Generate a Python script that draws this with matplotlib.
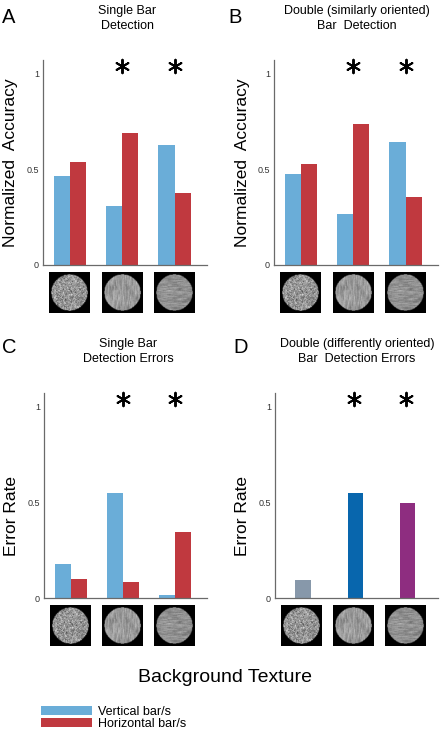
import numpy as np
import matplotlib
matplotlib.use("Agg")
import matplotlib.pyplot as plt
from matplotlib.patches import Patch

plt.rcParams['font.family'] = ['Liberation Sans', 'DejaVu Sans']

# ---------------- data ----------------
groups = [1, 2, 3]
textures = ["noise", "vertical", "horizontal"]

a_vertical = [0.464, 0.31, 0.625]
a_horizontal = [0.536, 0.69, 0.377]

b_vertical = [0.477, 0.264, 0.644]
b_horizontal = [0.526, 0.738, 0.356]

c_vertical = [0.18, 0.547, 0.018]
c_horizontal = [0.10, 0.084, 0.346]

d_values = [0.096, 0.55, 0.494]

significant = [False, True, True]
yticks = [0, 0.5, 1]
ytick_labels = ["0", "0.5", "1"]

titles = ["Single Bar\nDetection",
          "Double (similarly oriented)\nBar  Detection",
          "Single Bar\nDetection Errors",
          "Double (differently oriented)\nBar  Detection Errors"]
ylabels = ["Normalized  Accuracy", "Normalized  Accuracy", "Error Rate", "Error Rate"]
letters = ["A", "B", "C", "D"]
legend_labels = ["Vertical bar/s", "Horizontal bar/s"]
xlabel_text = "Background Texture"

# ---------------- style ----------------
BLUE = "#6aadd8"
RED = "#c0393f"
D_COLORS = ["#8798aa", "#0866ad", "#8e2d80"]
SPINE = "#6a6a6a"

W, H = 440, 730
fig = plt.figure(figsize=(W / 100, H / 100), dpi=100)


def px(left, top, w, h):
    return [left / W, 1 - (top + h) / H, w / W, h / H]


def fx(x):
    return x / W


def fy(y):
    return 1 - y / H


def hash2(i, j):
    v = np.sin(i * 12.9898 + j * 78.233) * 43758.5453
    return v - np.floor(v)


def streaks(a, b, seg=9.0):
    # smooth along b, varying across a
    t = b / seg
    t0 = np.floor(t)
    f = t - t0
    f = f * f * (3 - 2 * f)
    return hash2(a, t0) * (1 - f) + hash2(a, t0 + 1) * f


def texture(kind, n=72):
    jj, ii = np.meshgrid(np.arange(n) * 1.0, np.arange(n) * 1.0)
    fine = hash2(ii + 7.0, jj + 13.0)
    if kind == "noise":
        img = 0.22 + 0.72 * hash2(ii, jj)
    elif kind == "vertical":
        s = streaks(jj, ii)
        img = 0.60 + 0.28 * (s - 0.5) + 0.12 * (fine - 0.5)
    else:
        s = streaks(ii + 31.0, jj)
        img = 0.56 + 0.24 * (s - 0.5) + 0.12 * (fine - 0.5)
    c = (n - 1) / 2
    r = np.hypot(ii - c, jj - c)
    img = np.where(r <= n * 0.44, img, 0.0)
    return np.clip(img, 0, 1)


tex_imgs = [texture(k) for k in textures]

ax_rects = [px(43, 60, 164, 205), px(274, 60, 164, 205),
            px(44, 393, 163, 205), px(275, 393, 163, 205)]
XLIM = (0.486, 3.62)
YLIM = (0, 1.07)
bw = 0.31

title_pos = [(127, 18.5), (357, 18.5), (128, 351.5), (357, 351.5)]
letter_pos = [(2, 8), (228, 8), (2, 338), (233, 338)]
ylabel_pos = [(11, 163), (242, 163), (11, 516), (242, 516)]

panel_data = [(a_vertical, a_horizontal), (b_vertical, b_horizontal),
              (c_vertical, c_horizontal), None]

for k in range(4):
    ax = fig.add_axes(ax_rects[k])
    x = np.array(groups, dtype=float)
    if panel_data[k] is not None:
        v, hz = panel_data[k]
        ax.bar(x - bw / 2, v, width=bw, color=BLUE, edgecolor='none')
        ax.bar(x + bw / 2, hz, width=bw, color=RED, edgecolor='none')
    else:
        ax.bar(x + 0.03, d_values, width=0.3, color=D_COLORS, edgecolor='none')

    sx = [g for g, s in zip(groups, significant) if s]
    ax.scatter(sx, [1.04] * len(sx), marker=(6, 2, 0), s=95, color='black',
               linewidths=1.4, clip_on=False, zorder=5)

    for g, img in zip(groups, tex_imgs):
        ax.imshow(img, cmap='gray', vmin=0, vmax=1, aspect='auto',
                  extent=[g - 0.39, g + 0.39, -0.25, -0.036],
                  clip_on=False, interpolation='bilinear', zorder=3)

    ax.set_xlim(*XLIM)
    ax.set_ylim(*YLIM)
    ax.set_yticks(yticks)
    ax.set_yticklabels(ytick_labels)
    ax.set_xticks([])
    ax.tick_params(axis='y', length=0, pad=3, labelsize=6.5, colors='#333333')
    for s in ['top', 'right']:
        ax.spines[s].set_visible(False)
    for s in ['left', 'bottom']:
        ax.spines[s].set_color(SPINE)
        ax.spines[s].set_linewidth(0.9)
    ax.patch.set_alpha(0)

    tx, ty = title_pos[k]
    fig.text(fx(tx), fy(ty), titles[k], ha='center', va='center',
             fontsize=9, linespacing=1.3)
    lx, ly = letter_pos[k]
    fig.text(fx(lx), fy(ly), letters[k], ha='left', va='top', fontsize=14.5)
    yx, yy = ylabel_pos[k]
    fig.text(fx(yx), fy(yy), ylabels[k], ha='center', va='center',
             rotation=90, fontsize=12.5)

fig.text(fx(225), fy(678), xlabel_text, ha='center', va='center', fontsize=14)

handles = [Patch(facecolor=BLUE, edgecolor='none'),
           Patch(facecolor=RED, edgecolor='none')]
fig.legend(handles, legend_labels, loc='upper left',
           bbox_to_anchor=(fx(41), fy(706)), frameon=False, fontsize=9,
           handlelength=4.1, handleheight=0.75, handletextpad=0.45,
           labelspacing=0.0, borderpad=0, borderaxespad=0)

fig.savefig("out.png", dpi=100)
